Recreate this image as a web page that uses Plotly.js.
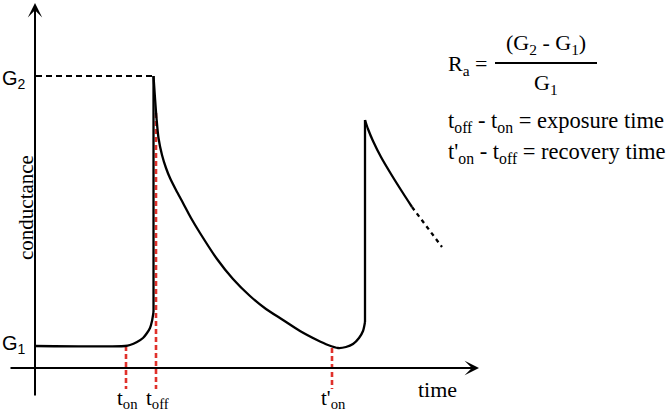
<!DOCTYPE html>
<html>
<head>
<meta charset="utf-8">
<script src="https://cdn.plot.ly/plotly-3.0.1.min.js"></script>
<style>
    html, body { margin: 0; padding: 0; background: #fff; }
    #chart { width: 666px; height: 415px; }
</style>
</head>
<body>
<div id="chart"></div>
<script>
// key times and levels (arbitrary units)
const tOn = 9.1;
const tOff = 12.1;
const tOnPrime = 29.7;
const G1 = 2.2;
const G2 = 29.2;

// response curve: baseline, exposure, recovery, second exposure, decay
const curveT = [0, 9.0, 9.5, 10.2, 10.8, 11.2, 11.5, 11.7, 11.85, 11.85,
    12.0, 12.15, 12.35, 12.7, 13.1, 13.5, 14.1, 14.8, 15.6, 16.5, 18.2, 19.8,
    21.5, 23.1, 24.8, 26.5, 28.2, 29.3, 30.3, 31.1, 31.8, 32.4, 32.8, 33.0, 33.0,
    33.3, 33.8, 34.6, 35.6, 36.6, 37.7];
const curveG = [2.2, 2.2, 2.3, 2.6, 3.0, 3.5, 4.0, 4.7, 5.6, 29.2,
    27.0, 25.0, 23.0, 21.3, 20.0, 19.0, 17.8, 16.5, 15.0, 13.5, 10.9, 8.9,
    7.2, 5.9, 4.8, 3.7, 2.8, 2.3, 2.0, 2.1, 2.4, 3.0, 3.7, 4.6, 24.8,
    23.9, 22.7, 21.1, 19.4, 17.8, 16.1];
// where the curve jumps straight up (indices into the arrays above)
const jumpIdx = [8, 33];

// continuation (dashed)
const trailT = [37.7, 40.7];
const trailG = [16.1, 12.1];

// red marker lines: time, top, bottom
const markT = [tOn, tOff, tOnPrime];
const markTop = [G1, 25.5, 2.0];
const markBottom = -2.1;
const markLabels = ["t<sub>on</sub>", "t<sub>off</sub>", "t'<sub>on</sub>"];

const serif = "Liberation Serif, Times New Roman, serif";
const sans = "Liberation Sans, Arial, sans-serif";
const red = "#e0312b";

const W = 666, H = 415;
const px = x => x / W;
const py = y => 1 - y / H;

const traces = [];

// G2 guide
traces.push({
    x: [0.1, curveT[9]], y: [G2, G2],
    mode: "lines", line: {color: "#000", width: 1.8, dash: "6px,4px"},
    hoverinfo: "skip"
});

// red dashed markers
markT.forEach((t, i) => {
    traces.push({
        x: [t, t], y: [markTop[i], markBottom],
        mode: "lines", line: {color: red, width: 2.6, dash: "5px,3px"},
        hoverinfo: "skip"
    });
});

// main curve: smooth pieces joined by straight vertical jumps
const cuts = [0, jumpIdx[0], jumpIdx[0] + 1, jumpIdx[1], jumpIdx[1] + 1, curveT.length - 1];
for (let k = 0; k < cuts.length - 1; k++) {
    const a = cuts[k], b = cuts[k + 1];
    const isJump = jumpIdx.includes(a);
    traces.push({
        x: curveT.slice(a, b + 1), y: curveG.slice(a, b + 1),
        mode: "lines",
        line: {color: "#000", width: 2.3, shape: isJump ? "linear" : "spline", smoothing: 0.8},
        hoverinfo: "skip"
    });
}

// dashed continuation
traces.push({
    x: trailT, y: trailG,
    mode: "lines", line: {color: "#000", width: 2.3, dash: "4px,4px"},
    hoverinfo: "skip"
});

const annotations = [
    // axes with arrows
    {x: 0, y: 36.5, ax: 0, ay: -2.9, xref: "x", yref: "y", axref: "x", ayref: "y",
        text: "", showarrow: true, arrowhead: 3, arrowsize: 1.2, arrowwidth: 2, arrowcolor: "#000", standoff: 0},
    {x: 44.4, y: 0, ax: -2.6, ay: 0, xref: "x", yref: "y", axref: "x", ayref: "y",
        text: "", showarrow: true, arrowhead: 3, arrowsize: 1.2, arrowwidth: 2, arrowcolor: "#000", standoff: 0},

    // level labels
    {x: 0, y: py(79), xref: "paper", yref: "paper", xanchor: "left", yanchor: "middle",
        text: "G<sub>2</sub>", showarrow: false, font: {family: sans, size: 20, color: "#000"}},
    {x: 0, y: py(344), xref: "paper", yref: "paper", xanchor: "left", yanchor: "middle",
        text: "G<sub>1</sub>", showarrow: false, font: {family: sans, size: 20, color: "#000"}},

    // axis titles
    {x: px(26), y: py(208), xref: "paper", yref: "paper", xanchor: "center", yanchor: "middle",
        text: "conductance", textangle: -90, showarrow: false, font: {family: serif, size: 21, color: "#000"}},
    {x: px(437), y: py(389), xref: "paper", yref: "paper", xanchor: "center", yanchor: "middle",
        text: "time", showarrow: false, font: {family: serif, size: 22, color: "#000"}},

    // formula block
    {x: px(446), y: py(65), xref: "paper", yref: "paper", xanchor: "left", yanchor: "middle",
        text: "R<sub>a</sub> =", showarrow: false, font: {family: serif, size: 22, color: "#000"}},
    {x: px(546), y: py(44), xref: "paper", yref: "paper", xanchor: "center", yanchor: "middle",
        text: "(G<sub>2</sub> - G<sub>1</sub>)", showarrow: false, font: {family: serif, size: 22, color: "#000"}},
    {x: px(546), y: py(84), xref: "paper", yref: "paper", xanchor: "center", yanchor: "middle",
        text: "G<sub>1</sub>", showarrow: false, font: {family: serif, size: 22, color: "#000"}},
    {x: px(446), y: py(122), xref: "paper", yref: "paper", xanchor: "left", yanchor: "middle",
        text: "t<sub>off</sub> - t<sub>on</sub> = exposure time", showarrow: false,
        font: {family: serif, size: 22.5, color: "#000"}},
    {x: px(446), y: py(153), xref: "paper", yref: "paper", xanchor: "left", yanchor: "middle",
        text: "t'<sub>on</sub> - t<sub>off</sub> = recovery time", showarrow: false,
        font: {family: serif, size: 22.5, color: "#000"}}
];

// time marker labels under the axis
markT.forEach((t, i) => {
    annotations.push({
        x: t + 0.1, y: py(399), xref: "x", yref: "paper", xanchor: "center", yanchor: "middle",
        text: markLabels[i], showarrow: false, font: {family: serif, size: 21, color: "#000"}
    });
});

const layout = {
    width: W,
    height: H,
    margin: {l: 0, r: 0, t: 0, b: 0, pad: 0},
    paper_bgcolor: "#fff",
    plot_bgcolor: "#fff",
    showlegend: false,
    xaxis: {range: [-3.5, 63.1], visible: false, fixedrange: true},
    yaxis: {range: [-4.7, 36.8], visible: false, fixedrange: true},
    shapes: [
        // fraction bar
        {type: "line", xref: "paper", yref: "paper", x0: px(495), x1: px(597), y0: py(63), y1: py(63),
            line: {color: "#000", width: 2}}
    ],
    annotations: annotations
};

Plotly.newPlot("chart", traces, layout, {displayModeBar: false, staticPlot: true});
</script>
</body>
</html>
